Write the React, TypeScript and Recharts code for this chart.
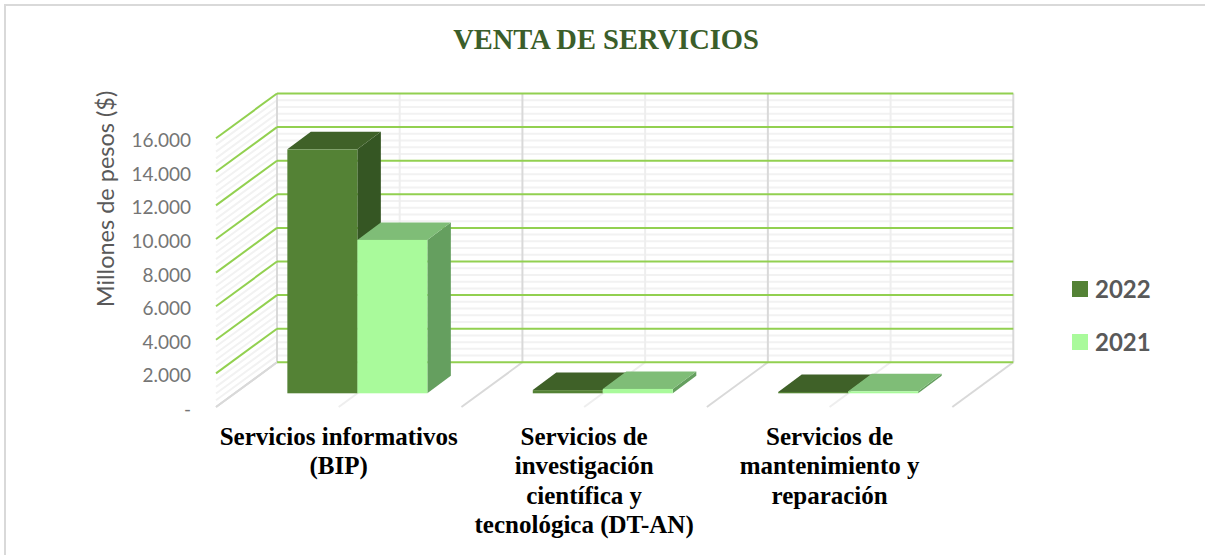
import React from "react";
import { BarChart, Bar, XAxis, YAxis, CartesianGrid, Legend, Label } from "recharts";

const categories = [
  ["Servicios informativos", "(BIP)"],
  ["Servicios de", "investigación", "científica y", "tecnológica (DT-AN)"],
  ["Servicios de", "mantenimiento y", "reparación"],
];
const values2022 = [14520, 190, 80];
const values2021 = [9130, 260, 120];
const majorTicks = [2000, 4000, 6000, 8000, 10000, 12000, 14000, 16000];
const axisTicks = [0, ...majorTicks];
const minorTicks = [
  400, 800, 1200, 1600, 2400, 2800, 3200, 3600, 4400, 4800, 5200, 5600, 6400, 6800, 7200, 7600,
  8400, 8800, 9200, 9600, 10400, 10800, 11200, 11600, 12400, 12800, 13200, 13600, 14400, 14800,
  15200, 15600,
];
const data = categories.map((lines, i) => ({
  name: lines.join(" "),
  lines,
  y2022: values2022[i],
  y2021: values2021[i],
}));

const BACK_X = 42;
const BACK_Y = -31;
const FRONT_X = -19;
const FRONT_Y = 13.7;
const DEPTH_X = 23.5;
const DEPTH_Y = 17.5;
const GREEN = "#92d050";
const GRAY = "#d9d9d9";
const LIGHT = "#f2f2f2";
const AXIS_FONT = "Lato, sans-serif";
const SERIF = "'Liberation Serif', serif";

const wallLine = (color: string, sideColor: string) => (p: any) => (
  <g key={p.key}>
    <line x1={p.x1 + BACK_X} y1={p.y1 + BACK_Y} x2={p.x2 + BACK_X} y2={p.y2 + BACK_Y} stroke={color} strokeWidth={2} />
    <line x1={p.x1 + BACK_X} y1={p.y1 + BACK_Y} x2={p.x1 + FRONT_X} y2={p.y1 + FRONT_Y} stroke={sideColor} strokeWidth={2} />
  </g>
);

const verticalLine = (p: any) => {
  const color = p.index % 2 === 0 ? GRAY : "#eeeeee";
  return (
    <g key={p.key}>
      <line x1={p.x1 + BACK_X} y1={p.y1 + BACK_Y} x2={p.x2 + BACK_X} y2={p.y2 + BACK_Y} stroke={color} strokeWidth={2} />
      <line x1={p.x2 + BACK_X} y1={p.y2 + BACK_Y} x2={p.x2 + FRONT_X} y2={p.y2 + FRONT_Y} stroke={color} strokeWidth={2} />
    </g>
  );
};

const bar3D = (front: string, top: string, side: string) => (p: any) => {
  const { x, y, width, height } = p;
  const r = x + width;
  const b = y + height;
  return (
    <g>
      <polygon points={`${r},${y} ${r + DEPTH_X},${y - DEPTH_Y} ${r + DEPTH_X},${b - DEPTH_Y} ${r},${b}`} fill={side} />
      <polygon points={`${x},${y} ${x + DEPTH_X},${y - DEPTH_Y} ${r + DEPTH_X},${y - DEPTH_Y} ${r},${y}`} fill={top} />
      <rect x={x} y={y} width={width} height={height} fill={front} />
    </g>
  );
};

const YTick = (p: any) => {
  const v: number = p.payload.value;
  const text = v === 0 ? "-" : String(v).replace(/(\d)(\d{3})$/, "$1.$2");
  return (
    <text x={191} y={p.y + FRONT_Y + 1.5} textAnchor="end" dominantBaseline="central" fontFamily={AXIS_FONT} fontSize={19} fill="#757575">
      {text}
    </text>
  );
};

const XTick = (p: any) => {
  const lines: string[] = data[p.index].lines;
  return (
    <text x={p.x + FRONT_X} textAnchor="middle" fontFamily={SERIF} fontWeight="bold" fontSize={25} fill="#000">
      {lines.map((l, i) => (
        <tspan key={i} x={p.x + FRONT_X} y={445 + i * 29.4}>
          {l}
        </tspan>
      ))}
    </text>
  );
};

const LegendBox = (p: any) => (
  <div>
    {(p.payload || []).map((e: any, i: number) => (
      <div key={e.value} style={{ position: "absolute", left: 0, top: i * 53, height: 24, display: "flex", alignItems: "center" }}>
        <span style={{ width: 16, height: 16, background: e.color, display: "inline-block", marginRight: 7 }} />
        <span style={{ fontFamily: AXIS_FONT, fontWeight: 700, fontSize: 24, color: "#595959", lineHeight: "24px" }}>{e.value}</span>
      </div>
    ))}
  </div>
);

export default function App() {
  return (
    <div style={{ position: "absolute", left: 0, top: 0, width: 1205, height: 555, background: "#fff", overflow: "hidden" }}>
      <div style={{ position: "absolute", left: 4, top: 4, width: 1201, height: 551, borderLeft: `2px solid ${GRAY}`, borderTop: `2px solid ${GRAY}` }} />
      <div style={{ position: "absolute", left: 0, width: 1212, top: 23, textAlign: "center", fontFamily: SERIF, fontWeight: "bold", fontSize: 28.5, lineHeight: "34px", color: "#3b5e2a" }}>
        VENTA DE SERVICIOS
      </div>
      <BarChart
        width={1205}
        height={555}
        data={data}
        margin={{ top: 124.5, right: 233.7, bottom: 160.7, left: 234 }}
        barCategoryGap={52.35}
        barGap={0}
        style={{ position: "absolute", left: 0, top: 0 }}
      >
        <CartesianGrid horizontalValues={minorTicks} horizontal={wallLine(LIGHT, LIGHT)} vertical={false} />
        <CartesianGrid
          horizontal={false}
          vertical={verticalLine}
          verticalCoordinatesGenerator={({ offset }: any) =>
            [0, 1, 2, 3, 4, 5, 6].map((i) => offset.left + (offset.width * i) / 6)
          }
        />
        <CartesianGrid horizontalValues={[0]} horizontal={wallLine(GREEN, GRAY)} vertical={false} />
        <CartesianGrid horizontalValues={majorTicks} horizontal={wallLine(GREEN, GREEN)} vertical={false} />
        <XAxis dataKey="name" height={1} axisLine={false} tickLine={false} interval={0} tick={XTick} />
        <YAxis width={1} domain={[0, 16000]} ticks={axisTicks} interval={0} axisLine={false} tickLine={false} tick={YTick}>
          <Label
            content={() => (
              <text
                transform="translate(105 199) rotate(-90)"
                textAnchor="middle"
                dominantBaseline="central"
                fontFamily={AXIS_FONT}
                fontSize={23.5}
                fill="#595959"
              >
                Millones de pesos ($)
              </text>
            )}
          />
        </YAxis>
        <Legend
          layout="vertical"
          align="center"
          verticalAlign="middle"
          width={130}
          height={90}
          itemSorter={null}
          wrapperStyle={{ left: 1072, top: 277 }}
          content={LegendBox}
        />
        <Bar dataKey="y2022" name="2022" fill="#548235" isAnimationActive={false} shape={bar3D("#548235", "#3f6128", "#355623")} />
        <Bar dataKey="y2021" name="2021" fill="#a9fa9b" isAnimationActive={false} shape={bar3D("#a9fa9b", "#7fbd77", "#659f5f")} />
      </BarChart>
    </div>
  );
}
